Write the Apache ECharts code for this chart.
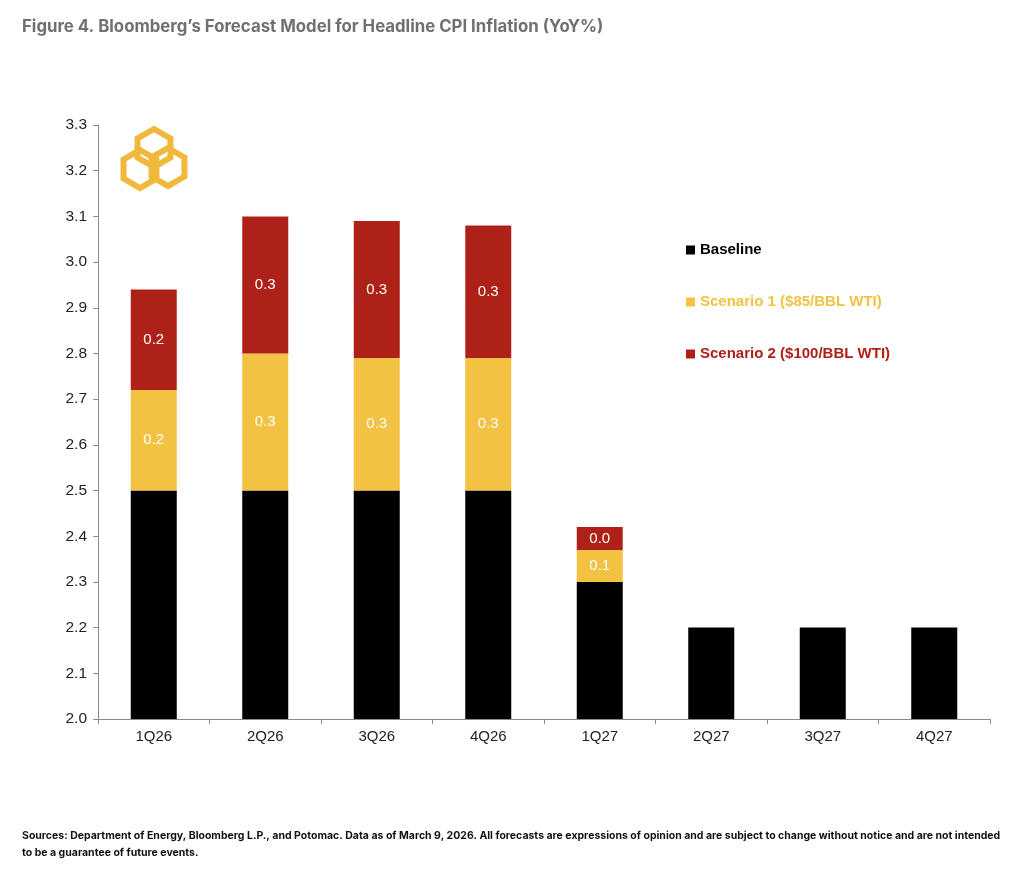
<!DOCTYPE html>
<html>
<head>
<meta charset="utf-8">
<script src="https://cdn.jsdelivr.net/npm/echarts@6/dist/echarts.min.js"></script>
<style>
  html, body { margin: 0; padding: 0; background: #fff; }
  #chart { width: 1024px; height: 874px; }
</style>
</head>
<body>
<div id="chart"></div>
<script>
  // data
  var quarters = ['1Q26', '2Q26', '3Q26', '4Q26', '1Q27', '2Q27', '3Q27', '4Q27'];
  var baseline = [2.5, 2.5, 2.5, 2.5, 2.3, 2.2, 2.2, 2.2];
  var scenario1 = [0.22, 0.30, 0.29, 0.29, 0.07, null, null, null]; // added on top of baseline
  var scenario2 = [0.22, 0.30, 0.30, 0.29, 0.05, null, null, null]; // added on top of scenario 1
  var scenario1Labels = ['0.2', '0.3', '0.3', '0.3', '0.1', '', '', ''];
  var scenario2Labels = ['0.2', '0.3', '0.3', '0.3', '0.0', '', '', ''];
  var yTicks = { min: 2.0, max: 3.3, step: 0.1 };

  var names = ['Baseline', 'Scenario 1 ($85/BBL WTI)', 'Scenario 2 ($100/BBL WTI)'];
  var colors = ['#000000', '#f4c242', '#ae2118'];

  var chart = echarts.init(document.getElementById('chart'));

  // logo: three interlocking hexagons
  function hexagon(cx, cy, r) {
    var pts = [];
    for (var i = 0; i < 6; i++) {
      var a = Math.PI / 180 * (60 * i - 90);
      pts.push([cx + r * Math.cos(a), cy + r * Math.sin(a)]);
    }
    return {
      type: 'polygon',
      shape: { points: pts },
      style: { fill: 'none', stroke: '#f0b93c', lineWidth: 6, lineJoin: 'miter' },
      z: 10
    };
  }

  function labelFrom(arr) {
    return {
      show: true,
      position: 'inside',
      color: '#fff',
      fontSize: 15,
      fontFamily: 'Liberation Sans, Arial, sans-serif',
      formatter: function (p) { return arr[p.dataIndex]; }
    };
  }

  var option = {
    backgroundColor: '#fff',
    animation: false,
    color: colors,
    grid: { left: 98, right: 34, top: 125, bottom: 155 },
    legend: {
      orient: 'vertical',
      left: 681,
      top: 237,
      icon: 'rect',
      itemWidth: 9,
      itemHeight: 9,
      itemGap: 36,
      selectedMode: false,
      textStyle: {
        fontSize: 15,
        lineHeight: 16,
        fontWeight: 'bold',
        fontFamily: 'Liberation Sans, Arial, sans-serif'
      },
      data: [
        { name: names[0], textStyle: { color: colors[0] } },
        { name: names[1], textStyle: { color: colors[1] } },
        { name: names[2], textStyle: { color: colors[2] } }
      ]
    },
    xAxis: {
      type: 'category',
      data: quarters,
      axisLine: { lineStyle: { color: '#8a8a8a', width: 1 } },
      axisTick: { show: true, length: 5, lineStyle: { color: '#8a8a8a' } },
      axisLabel: {
        color: '#222',
        fontSize: 15,
        margin: 10,
        fontFamily: 'Liberation Sans, Arial, sans-serif'
      }
    },
    yAxis: {
      type: 'value',
      min: yTicks.min,
      max: yTicks.max,
      interval: yTicks.step,
      splitLine: { show: false },
      axisLine: { show: true, lineStyle: { color: '#8a8a8a', width: 1 } },
      axisTick: { show: true, length: 5, lineStyle: { color: '#8a8a8a' } },
      axisLabel: {
        color: '#222',
        fontSize: 15.5,
        margin: 11,
        fontFamily: 'Liberation Sans, Arial, sans-serif',
        formatter: function (v) { return v.toFixed(1); }
      }
    },
    series: [
      {
        name: names[0], type: 'bar', stack: 'cpi', barWidth: 46, clip: true,
        itemStyle: { color: colors[0] },
        data: baseline
      },
      {
        name: names[1], type: 'bar', stack: 'cpi', barWidth: 46, clip: true,
        itemStyle: { color: colors[1] },
        label: labelFrom(scenario1Labels),
        data: scenario1
      },
      {
        name: names[2], type: 'bar', stack: 'cpi', barWidth: 46, clip: true,
        itemStyle: { color: colors[2] },
        label: labelFrom(scenario2Labels),
        data: scenario2
      }
    ],
    graphic: [
      {
        type: 'text', left: 22, top: 18,
        style: {
          text: 'Figure 4. Bloomberg\u2019s Forecast Model for Headline CPI Inflation (YoY%)',
          fill: '#707070', fontSize: 16.8, fontWeight: 'bold',
          fontFamily: 'Inter, Noto Sans, sans-serif'
        }
      },
      {
        type: 'text', left: 22, top: 827,
        style: {
          text: 'Sources: Department of Energy, Bloomberg L.P., and Potomac. Data as of March 9, 2026. All forecasts are expressions of opinion and are subject to change without notice and are not intended\nto be a guarantee of future events.',
          fill: '#111', fontSize: 10.5, fontWeight: 'bold', lineHeight: 17,
          fontFamily: 'Inter, Noto Sans, sans-serif'
        }
      },
      hexagon(154, 148, 19),
      hexagon(140, 169, 19),
      hexagon(168, 167, 19)
    ]
  };

  chart.setOption(option);
</script>
</body>
</html>
